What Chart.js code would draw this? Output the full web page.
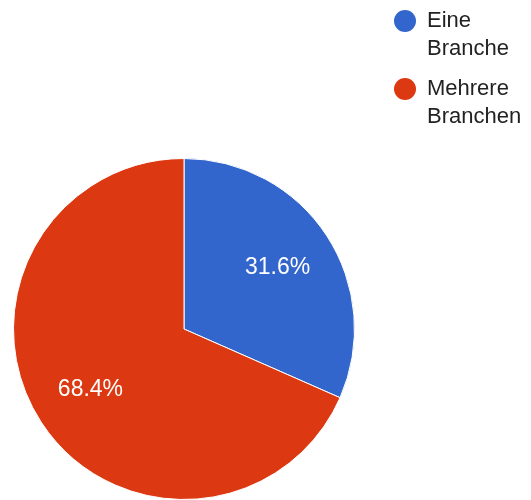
<!DOCTYPE html>
<html>
<head>
<meta charset="utf-8">
<script src="https://cdn.jsdelivr.net/npm/chart.js@4"></script>
<style>
  html, body { margin: 0; padding: 0; background: #fff; }
  #wrap { width: 531px; height: 500px; }
</style>
</head>
<body>
<div id="wrap"><canvas id="pieChart" width="531" height="500"></canvas></div>
<script>
var categories = [['Eine', 'Branche'], ['Mehrere', 'Branchen']];
var shares = [31.6, 68.4];
var sliceColors = ['#3366cc', '#dc3912'];

var FONT = '"Liberation Sans", Arial, sans-serif';

// percentage text inside each slice
var sliceLabels = {
    id: 'sliceLabels',
    afterDatasetsDraw: function (chart) {
        var ctx = chart.ctx;
        var meta = chart.getDatasetMeta(0);
        var values = chart.data.datasets[0].data;
        var total = values.reduce(function (a, b) { return a + b; }, 0);
        ctx.save();
        ctx.fillStyle = '#ffffff';
        ctx.font = '23px ' + FONT;
        ctx.textAlign = 'center';
        ctx.textBaseline = 'middle';
        meta.data.forEach(function (arc, i) {
            var mid = (arc.startAngle + arc.endAngle) / 2;
            var r = arc.outerRadius * 0.655;
            var x = arc.x + Math.cos(mid) * r;
            var y = arc.y + Math.sin(mid) * r;
            ctx.fillText((values[i] / total * 100).toFixed(1) + '%', x, y);
        });
        ctx.restore();
    }
};

// legend on the right with wrapped labels
var sideLegend = {
    id: 'sideLegend',
    afterDraw: function (chart) {
        var ctx = chart.ctx;
        var labels = chart.data.labels;
        var colors = chart.data.datasets[0].backgroundColor;
        var y = 21;
        ctx.save();
        ctx.font = '22px ' + FONT;
        ctx.textBaseline = 'middle';
        labels.forEach(function (lines, i) {
            ctx.fillStyle = colors[i];
            ctx.beginPath();
            ctx.arc(405, y, 11, 0, Math.PI * 2);
            ctx.fill();
            ctx.fillStyle = '#222222';
            lines.forEach(function (line, j) {
                ctx.fillText(line, 427, y + j * 28);
            });
            y += 68;
        });
        ctx.restore();
    }
};

new Chart(document.getElementById('pieChart').getContext('2d'), {
    type: 'pie',
    data: {
        labels: categories,
        datasets: [{
            data: shares,
            backgroundColor: sliceColors,
            borderColor: '#ffffff',
            borderWidth: 1
        }]
    },
    options: {
        responsive: false,
        animation: false,
        layout: {
            padding: { left: 12, right: 175, top: 158, bottom: 0 }
        },
        plugins: {
            legend: { display: false },
            tooltip: { enabled: false }
        }
    },
    plugins: [sliceLabels, sideLegend]
});
</script>
</body>
</html>
